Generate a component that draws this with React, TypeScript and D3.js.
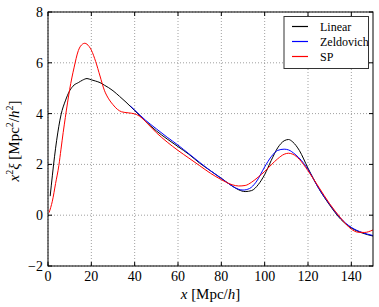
import React, { useEffect, useRef } from "react";
import * as d3 from "d3";

const linX = [1, 2, 3, 4, 6, 8, 10, 12, 14, 16, 18, 20, 22, 24, 26, 28, 30, 33, 36, 40, 45, 50, 55, 60, 65, 70, 75, 80, 85, 88, 91, 94, 97, 100, 103, 106, 109, 111, 113, 116, 120, 125, 130, 135, 140, 145, 150];
const linY = [0.75, 1.55, 2.3, 2.95, 3.95, 4.5, 4.9, 5.12, 5.22, 5.32, 5.38, 5.33, 5.28, 5.22, 5.12, 5.02, 4.9, 4.68, 4.45, 4.12, 3.7, 3.32, 3.0, 2.7, 2.4, 2.05, 1.75, 1.45, 1.15, 1.0, 0.93, 0.97, 1.2, 1.6, 2.15, 2.65, 2.93, 2.98, 2.88, 2.55, 1.85, 1.05, 0.4, -0.15, -0.5, -0.7, -0.82];

const zelX = [38, 40, 45, 50, 55, 60, 65, 70, 75, 80, 85, 88, 90, 93, 96, 100, 103, 106, 109, 111, 114, 117, 120, 125, 130, 135, 140, 145, 150];
const zelY = [4.3, 4.14, 3.74, 3.4, 3.07, 2.76, 2.42, 2.08, 1.75, 1.45, 1.15, 1.02, 0.99, 1.05, 1.3, 1.9, 2.3, 2.55, 2.6, 2.57, 2.4, 2.15, 1.8, 1.05, 0.42, -0.12, -0.48, -0.68, -0.8];

const spX = [0.5, 2, 3.5, 5, 6, 7, 8, 9, 10, 12, 14, 16, 17, 18, 20, 22, 24, 26, 28, 30, 32, 34, 37, 40, 43, 46, 50, 55, 60, 65, 70, 75, 80, 85, 88, 91, 94, 97, 100, 103, 106, 109, 111, 113, 116, 120, 125, 130, 135, 140, 143, 146, 150];
const spY = [0.1, 0.55, 1.25, 1.95, 2.6, 3.25, 3.85, 4.42, 4.95, 5.8, 6.48, 6.74, 6.77, 6.73, 6.5, 6.05, 5.48, 4.92, 4.58, 4.35, 4.17, 4.07, 4.03, 3.99, 3.85, 3.6, 3.25, 2.88, 2.55, 2.25, 1.95, 1.65, 1.4, 1.2, 1.15, 1.17, 1.3, 1.5, 1.72, 1.98, 2.22, 2.4, 2.44, 2.4, 2.2, 1.75, 1.1, 0.45, -0.1, -0.55, -0.67, -0.68, -0.58];

const xTicks = [0, 20, 40, 60, 80, 100, 120, 140];
const yTicks = [-2, 0, 2, 4, 6, 8];
const seriesNames = ["Linear", "Zeldovich", "SP"];
const seriesColors = ["#000000", "#0000ff", "#ff0000"];

export default function App() {
  const svgRef = useRef<SVGSVGElement | any>();

  useEffect(() => {
    const svg = d3.select(svgRef.current);
    svg.selectAll("*").remove();

    const left = 48, right = 373, top = 12, bottom = 266;
    const x = d3.scaleLinear().domain([0, 150]).range([left, right]);
    const y = d3.scaleLinear().domain([-2, 8]).range([bottom, top]);

    // grid
    const grid = svg.append("g");
    xTicks.forEach((t) => {
      grid.append("line").attr("x1", x(t)).attr("x2", x(t)).attr("y1", top).attr("y2", bottom)
        .attr("stroke", "#888").attr("stroke-width", 0.8).attr("stroke-dasharray", "1,2");
    });
    yTicks.forEach((t) => {
      grid.append("line").attr("x1", left).attr("x2", right).attr("y1", y(t)).attr("y2", y(t))
        .attr("stroke", "#888").attr("stroke-width", 0.8).attr("stroke-dasharray", "1,2");
    });

    const series = [
      { xs: linX, ys: linY },
      { xs: zelX, ys: zelY },
      { xs: spX, ys: spY },
    ];
    const line = d3.line<[number, number]>()
      .x((d) => x(d[0]))
      .y((d) => y(d[1]))
      .curve(d3.curveMonotoneX);

    series.forEach((s, i) => {
      const pts: [number, number][] = s.xs.map((v, j) => [v, s.ys[j]]);
      svg.append("path").attr("d", line(pts)).attr("fill", "none")
        .attr("stroke", seriesColors[i]).attr("stroke-width", 1);
    });

    // frame
    svg.append("rect").attr("x", left).attr("y", top).attr("width", right - left).attr("height", bottom - top)
      .attr("fill", "none").attr("stroke", "#000").attr("stroke-width", 1);

    // ticks inward
    const tk = svg.append("g").attr("stroke", "#000").attr("stroke-width", 1);
    xTicks.forEach((t) => {
      tk.append("line").attr("x1", x(t)).attr("x2", x(t)).attr("y1", bottom).attr("y2", bottom - 4);
      tk.append("line").attr("x1", x(t)).attr("x2", x(t)).attr("y1", top).attr("y2", top + 4);
    });
    yTicks.forEach((t) => {
      tk.append("line").attr("x1", left).attr("x2", left + 4).attr("y1", y(t)).attr("y2", y(t));
      tk.append("line").attr("x1", right).attr("x2", right - 4).attr("y1", y(t)).attr("y2", y(t));
    });

    // tick labels
    xTicks.forEach((t) => {
      svg.append("text").attr("x", x(t)).attr("y", bottom + 15).attr("text-anchor", "middle")
        .attr("font-size", 14).text(String(t));
    });
    yTicks.forEach((t) => {
      svg.append("text").attr("x", left - 5).attr("y", y(t) + 5).attr("text-anchor", "end")
        .attr("font-size", 14).text(t < 0 ? "\u2212" + Math.abs(t) : String(t));
    });

    // axis labels
    const xl = svg.append("text").attr("x", (left + right) / 2).attr("y", 299).attr("text-anchor", "middle")
      .attr("font-size", 15);
    xl.append("tspan").attr("font-style", "italic").text("x");
    xl.append("tspan").text(" [Mpc/");
    xl.append("tspan").attr("font-style", "italic").text("h");
    xl.append("tspan").text("]");

    const yl = svg.append("text").attr("transform", `translate(19,${(top + bottom) / 2 + 2}) rotate(-90)`)
      .attr("text-anchor", "middle").attr("font-size", 15);
    yl.append("tspan").attr("font-style", "italic").text("x");
    yl.append("tspan").attr("font-size", 10).attr("dy", -6).text("2");
    yl.append("tspan").attr("font-style", "italic").attr("dy", 6).text("\u03be");
    yl.append("tspan").text(" [Mpc");
    yl.append("tspan").attr("font-size", 10).attr("dy", -6).text("2");
    yl.append("tspan").attr("dy", 6).text("/");
    yl.append("tspan").attr("font-style", "italic").text("h");
    yl.append("tspan").attr("font-size", 10).attr("dy", -6).text("2");
    yl.append("tspan").attr("dy", 6).text("]");

    // legend
    const lg = svg.append("g");
    lg.append("rect").attr("x", 284).attr("y", 16.5).attr("width", 84.5).attr("height", 52)
      .attr("fill", "#fff").attr("stroke", "#333").attr("stroke-width", 1);
    seriesNames.forEach((n, i) => {
      const ly = 26.5 + i * 15;
      lg.append("line").attr("x1", 292).attr("x2", 308).attr("y1", ly).attr("y2", ly)
        .attr("stroke", seriesColors[i]).attr("stroke-width", 1.2);
      lg.append("text").attr("x", 320).attr("y", ly + 4).attr("font-size", 12).text(n);
    });
  }, []);

  return (
    <svg ref={svgRef} width={379} height={307}
      style={{ position: "absolute", left: 0, top: 0, background: "#fff", fontFamily: "'Liberation Serif', serif" }} />
  );
}
